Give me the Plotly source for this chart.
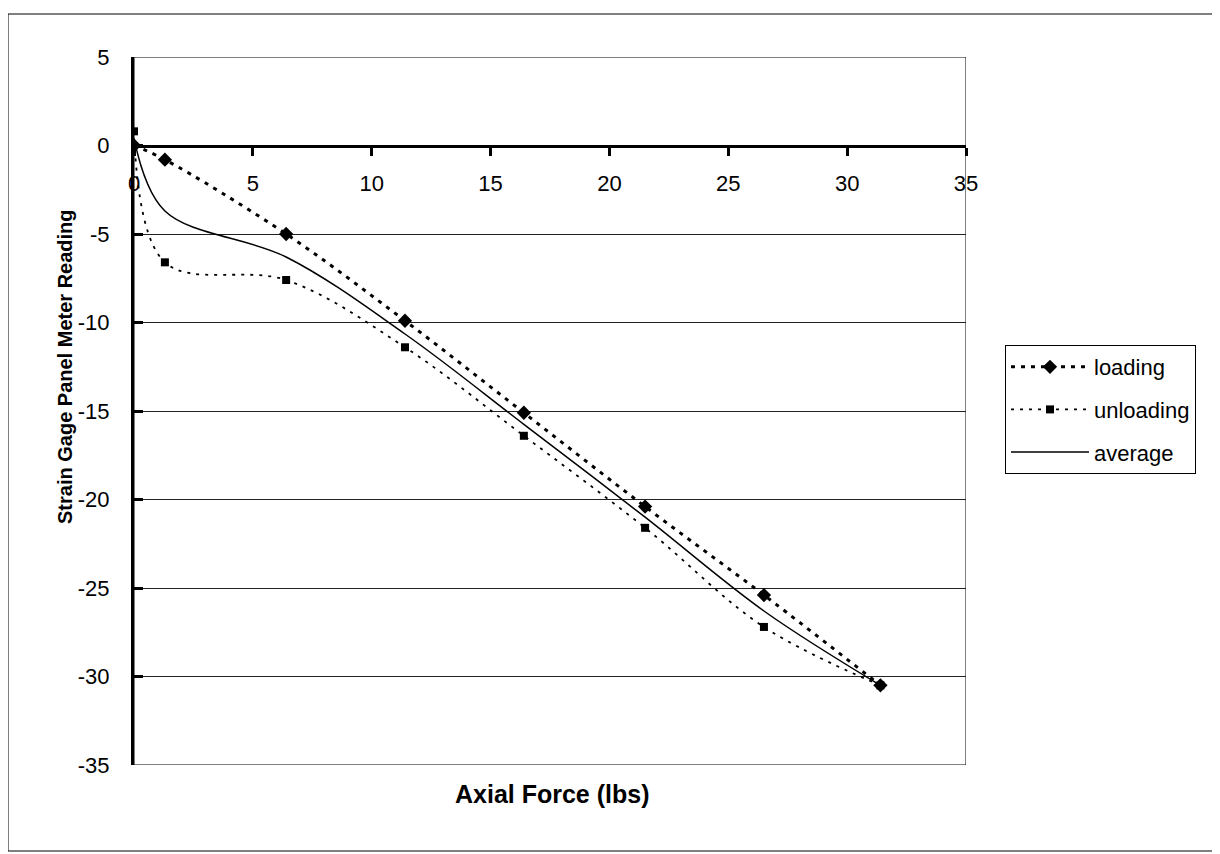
import plotly.graph_objects as go

# axial force (lbs) and readings
force = [0, 1.3, 6.4, 11.4, 16.4, 21.5, 26.5, 31.4]
loading = [0, -0.8, -5.0, -9.9, -15.1, -20.4, -25.4, -30.5]
unloading = [0.8, -6.6, -7.6, -11.4, -16.4, -21.6, -27.2, -30.5]
average = [0.4, -3.7, -6.3, -10.65, -15.75, -21.0, -26.3, -30.5]

x_ticks = [0, 5, 10, 15, 20, 25, 30, 35]
y_ticks = [5, 0, -5, -10, -15, -20, -25, -30, -35]
y_labels = ['5', '0', '-5', '-10', '-15', '-20', '-25', '-30', '-35']

FONT = "Liberation Sans, Arial, sans-serif"
# page body has an 8px margin, so the figure is a little smaller than the window
W, H = 1212, 846
L, R, T, B = 126, 254, 49, 89
pw, ph = W - L - R, H - T - B


def px_x(p):
    return (p - L) / pw


def px_y(p):
    return (H - B - p) / ph


fig = go.Figure()
fig.add_trace(go.Scatter(
    x=force, y=loading, mode='lines+markers', name='loading', legendgroup='a',
    line=dict(color='black', width=3, dash='4px,6px', shape='spline', smoothing=1),
    marker=dict(symbol='diamond', size=11, color='black')))
fig.add_trace(go.Scatter(
    x=force, y=unloading, mode='lines+markers', name='unloading', legendgroup='b',
    line=dict(color='black', width=1.8, dash='3px,6px', shape='spline', smoothing=1),
    marker=dict(symbol='square', size=8, color='black')))
fig.add_trace(go.Scatter(
    x=force, y=average, mode='lines', name='average', legendgroup='c',
    line=dict(color='black', width=1.5, shape='spline', smoothing=1)))

# plot-area frame
fig.add_shape(type='rect', xref='x', yref='y', x0=0, x1=35, y0=-35, y1=5,
              line=dict(color='black', width=1), layer='below')
# outer chart border
fig.add_shape(type='rect', xref='paper', yref='paper',
              x0=px_x(0), x1=px_x(1205), y0=px_y(843), y1=px_y(6),
              line=dict(color='black', width=1))

fig.add_annotation(text='<b>Strain Gage Panel Meter Reading</b>', textangle=-90,
                   xref='paper', yref='paper', x=px_x(44), y=px_y(359),
                   showarrow=False, font=dict(family=FONT, size=20, color='black'))
fig.add_annotation(text='<b>Axial Force (lbs)</b>', xref='paper', yref='paper',
                   x=px_x(544), y=px_y(802), showarrow=False,
                   font=dict(family=FONT, size=25, color='black'))

fig.update_layout(
    width=W, height=H, margin=dict(l=L, r=R, t=T, b=B),
    plot_bgcolor='white', paper_bgcolor='white',
    font=dict(family=FONT, size=22, color='black'),
    xaxis=dict(range=[0, 35], tickvals=x_ticks, showgrid=False, zeroline=False,
               showline=True, linewidth=3, linecolor='black',
               anchor='free', position=35 / 40,
               ticks='outside', ticklen=8, tickwidth=3, tickcolor='black',
               ticklabelstandoff=9),
    yaxis=dict(range=[-35, 5], tickvals=y_ticks, ticktext=y_labels,
               showgrid=True, gridcolor='#222',
               gridwidth=1, zeroline=False, showline=True, linewidth=3,
               linecolor='black', ticks='inside', ticklen=9, tickwidth=3,
               tickcolor='black', ticklabelstandoff=17),
    legend=dict(x=px_x(997), y=px_y(337), xanchor='left', yanchor='top',
                bordercolor='black', borderwidth=1, bgcolor='white',
                font=dict(family=FONT, size=22), tracegroupgap=11,
                itemwidth=78),
    showlegend=True,
)

fig.write_html("out.html")
